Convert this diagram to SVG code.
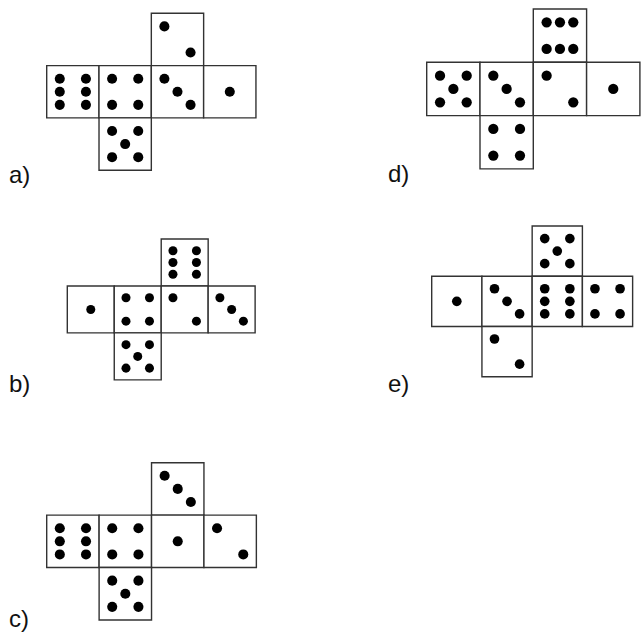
<svg xmlns="http://www.w3.org/2000/svg" xmlns:xlink="http://www.w3.org/1999/xlink" width="641" height="632" viewBox="0 0 641 632">
<style>
.face{fill:#fff;stroke:#333;stroke-width:1.4;vector-effect:non-scaling-stroke}
.pip{fill:#000}
.lbl{font-family:"Liberation Sans",Arial,sans-serif;font-size:24px;fill:#111}
</style>
<defs>
<rect id="sq" class="face" x="0" y="0" width="52" height="52"/>
<g id="p1" class="pip"><circle cx="26" cy="26" r="5"/></g>
<g id="p2" class="pip"><circle cx="13" cy="13" r="5"/><circle cx="39" cy="39" r="5"/></g>
<g id="p3" class="pip"><circle cx="13" cy="13" r="5"/><circle cx="26" cy="26" r="5"/><circle cx="39" cy="39" r="5"/></g>
<g id="p4" class="pip"><circle cx="13" cy="13" r="5"/><circle cx="39" cy="13" r="5"/><circle cx="13" cy="39" r="5"/><circle cx="39" cy="39" r="5"/></g>
<g id="p5" class="pip"><circle cx="13" cy="13" r="5"/><circle cx="39" cy="13" r="5"/><circle cx="26" cy="26" r="5"/><circle cx="13" cy="39" r="5"/><circle cx="39" cy="39" r="5"/></g>
<g id="p6v" class="pip"><circle cx="13" cy="13" r="5"/><circle cx="39" cy="13" r="5"/><circle cx="13" cy="26" r="5"/><circle cx="39" cy="26" r="5"/><circle cx="13" cy="39" r="5"/><circle cx="39" cy="39" r="5"/></g>
<g id="p6h" class="pip"><circle cx="13" cy="13" r="5"/><circle cx="26" cy="13" r="5"/><circle cx="39" cy="13" r="5"/><circle cx="13" cy="39" r="5"/><circle cx="26" cy="39" r="5"/><circle cx="39" cy="39" r="5"/></g>
</defs>

<!-- a -->
<g id="net-a" transform="translate(46.7,13.3) scale(1.006)">
<g id="a-top" transform="translate(104,0)"><use xlink:href="#sq"/><use xlink:href="#p2"/></g>
<g id="a-m1" transform="translate(0,52)"><use xlink:href="#sq"/><use xlink:href="#p6v"/></g>
<g id="a-m2" transform="translate(52,52)"><use xlink:href="#sq"/><use xlink:href="#p4"/></g>
<g id="a-m3" transform="translate(104,52)"><use xlink:href="#sq"/><use xlink:href="#p3"/></g>
<g id="a-m4" transform="translate(156,52)"><use xlink:href="#sq"/><use xlink:href="#p1"/></g>
<g id="a-bot" transform="translate(52,104)"><use xlink:href="#sq"/><use xlink:href="#p5"/></g>
</g>
<text id="label-a" class="lbl" x="9" y="183">a)</text>

<!-- b -->
<g id="net-b" transform="translate(67.3,239) scale(0.903)">
<g id="b-top" transform="translate(104,0)"><use xlink:href="#sq"/><use xlink:href="#p6v"/></g>
<g id="b-m1" transform="translate(0,52)"><use xlink:href="#sq"/><use xlink:href="#p1"/></g>
<g id="b-m2" transform="translate(52,52)"><use xlink:href="#sq"/><use xlink:href="#p4"/></g>
<g id="b-m3" transform="translate(104,52)"><use xlink:href="#sq"/><use xlink:href="#p2"/></g>
<g id="b-m4" transform="translate(156,52)"><use xlink:href="#sq"/><use xlink:href="#p3"/></g>
<g id="b-bot" transform="translate(52,104)"><use xlink:href="#sq"/><use xlink:href="#p5"/></g>
</g>
<text id="label-b" class="lbl" x="9" y="392">b)</text>

<!-- c -->
<g id="net-c" transform="translate(46.7,462.7) scale(1.008)">
<g id="c-top" transform="translate(104,0)"><use xlink:href="#sq"/><use xlink:href="#p3"/></g>
<g id="c-m1" transform="translate(0,52)"><use xlink:href="#sq"/><use xlink:href="#p6v"/></g>
<g id="c-m2" transform="translate(52,52)"><use xlink:href="#sq"/><use xlink:href="#p4"/></g>
<g id="c-m3" transform="translate(104,52)"><use xlink:href="#sq"/><use xlink:href="#p1"/></g>
<g id="c-m4" transform="translate(156,52)"><use xlink:href="#sq"/><use xlink:href="#p2"/></g>
<g id="c-bot" transform="translate(52,104)"><use xlink:href="#sq"/><use xlink:href="#p5"/></g>
</g>
<text id="label-c" class="lbl" x="9" y="627">c)</text>

<!-- d -->
<g id="net-d" transform="translate(426.7,9) scale(1.025)">
<g id="d-top" transform="translate(104,0)"><use xlink:href="#sq"/><use xlink:href="#p6h"/></g>
<g id="d-m1" transform="translate(0,52)"><use xlink:href="#sq"/><use xlink:href="#p5"/></g>
<g id="d-m2" transform="translate(52,52)"><use xlink:href="#sq"/><use xlink:href="#p3"/></g>
<g id="d-m3" transform="translate(104,52)"><use xlink:href="#sq"/><use xlink:href="#p2"/></g>
<g id="d-m4" transform="translate(156,52)"><use xlink:href="#sq"/><use xlink:href="#p1"/></g>
<g id="d-bot" transform="translate(52,104)"><use xlink:href="#sq"/><use xlink:href="#p4"/></g>
</g>
<text id="label-d" class="lbl" x="388" y="182">d)</text>

<!-- e -->
<g id="net-e" transform="translate(431.7,226) scale(0.966)">
<g id="e-top" transform="translate(104,0)"><use xlink:href="#sq"/><use xlink:href="#p5"/></g>
<g id="e-m1" transform="translate(0,52)"><use xlink:href="#sq"/><use xlink:href="#p1"/></g>
<g id="e-m2" transform="translate(52,52)"><use xlink:href="#sq"/><use xlink:href="#p3"/></g>
<g id="e-m3" transform="translate(104,52)"><use xlink:href="#sq"/><use xlink:href="#p6v"/></g>
<g id="e-m4" transform="translate(156,52)"><use xlink:href="#sq"/><use xlink:href="#p4"/></g>
<g id="e-bot" transform="translate(52,104)"><use xlink:href="#sq"/><use xlink:href="#p2"/></g>
</g>
<text id="label-e" class="lbl" x="388" y="392">e)</text>

<g id="connectors"/>
</svg>
